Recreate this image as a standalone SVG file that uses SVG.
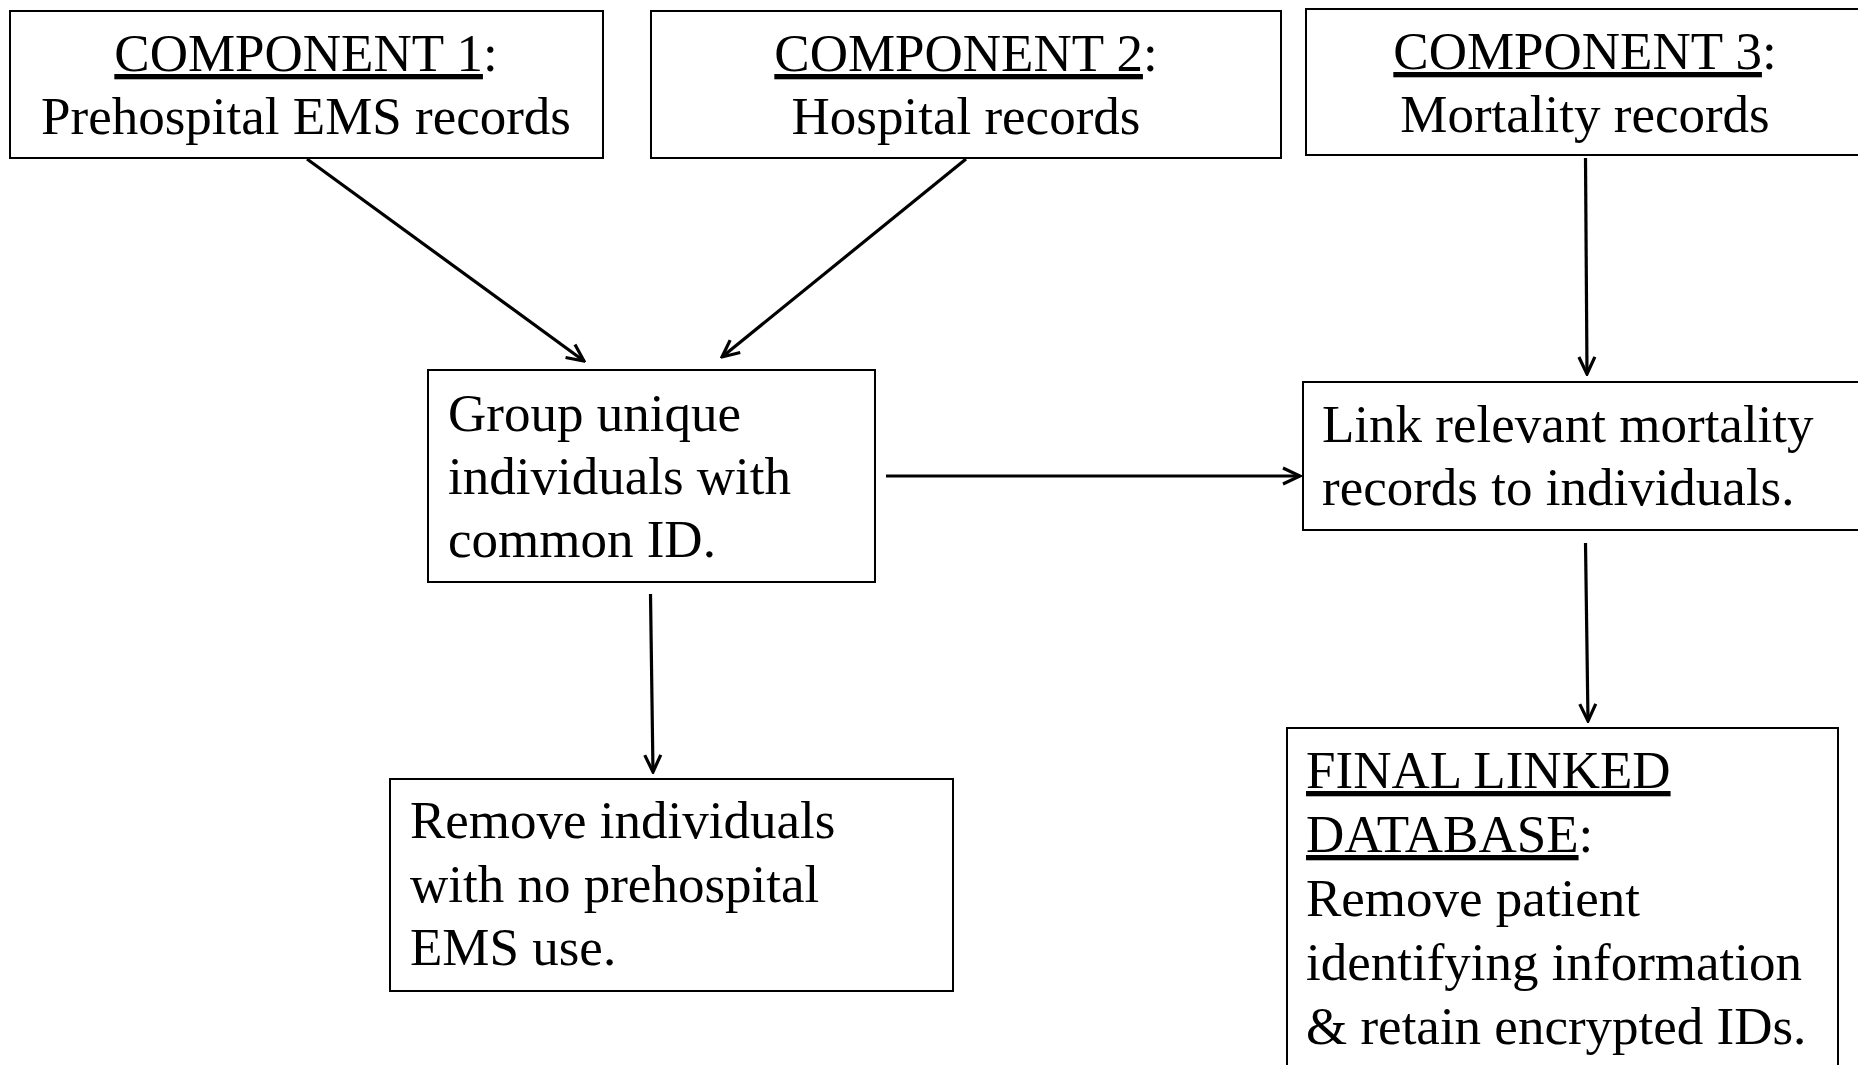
<svg xmlns="http://www.w3.org/2000/svg" width="1858" height="1065" viewBox="0 0 1858 1065">
<style>
.box{fill:#fff;stroke:#000;stroke-width:2}
.t{font-family:"Liberation Serif","Times New Roman",serif;font-size:53px;fill:#000}
.c{text-anchor:middle}
.u{text-decoration:underline}
.con{stroke:#000;stroke-width:3.2;fill:none;marker-end:url(#ah)}
</style>
<defs>
<marker id="ah" viewBox="0 0 22 22" refX="20" refY="11" markerWidth="22" markerHeight="22" markerUnits="userSpaceOnUse" orient="auto">
<path d="M3,3 L20,11 L3,19" fill="none" stroke="#000" stroke-width="3.2"/>
</marker>
</defs>
<rect width="1858" height="1065" fill="#fff"/>
<g id="connectors">
<line class="con" x1="307" y1="159" x2="584" y2="361"/>
<line class="con" x1="966" y1="159" x2="722" y2="357"/>
<line class="con" x1="1585.5" y1="158" x2="1587" y2="374"/>
<line class="con" x1="886" y1="476" x2="1300" y2="476"/>
<line class="con" x1="650.5" y1="594" x2="653" y2="772"/>
<line class="con" x1="1585.5" y1="543" x2="1588" y2="721"/>
</g>
<g id="comp1">
<rect class="box" x="10" y="11" width="593" height="147"/>
<text class="t c" x="306" y="71"><tspan class="u">COMPONENT 1</tspan>:</text>
<text class="t c" x="306" y="134">Prehospital EMS records</text>
</g>
<g id="comp2">
<rect class="box" x="651" y="11" width="630" height="147"/>
<text class="t c" x="966" y="71"><tspan class="u">COMPONENT 2</tspan>:</text>
<text class="t c" x="966" y="134">Hospital records</text>
</g>
<g id="comp3">
<rect class="box" x="1306" y="9" width="560" height="146"/>
<text class="t c" x="1585" y="69"><tspan class="u">COMPONENT 3</tspan>:</text>
<text class="t c" x="1585" y="132">Mortality records</text>
</g>
<g id="group">
<rect class="box" x="428" y="370" width="447" height="212"/>
<text class="t" x="448" y="431">Group unique</text>
<text class="t" x="448" y="494">individuals with</text>
<text class="t" x="448" y="557">common ID.</text>
</g>
<g id="link">
<rect class="box" x="1303" y="382" width="565" height="148"/>
<text class="t" x="1322" y="442">Link relevant mortality</text>
<text class="t" x="1322" y="505">records to individuals.</text>
</g>
<g id="remove">
<rect class="box" x="390" y="779" width="563" height="212"/>
<text class="t" x="410" y="838">Remove individuals</text>
<text class="t" x="410" y="902">with no prehospital</text>
<text class="t" x="410" y="965">EMS use.</text>
</g>
<g id="final">
<rect class="box" x="1287" y="728" width="551" height="345"/>
<text class="t" x="1306" y="788"><tspan class="u">FINAL LINKED</tspan></text>
<text class="t" x="1306" y="852"><tspan class="u">DATABASE</tspan>:</text>
<text class="t" x="1306" y="916">Remove patient</text>
<text class="t" x="1306" y="980">identifying information</text>
<text class="t" x="1306" y="1044">&amp; retain encrypted IDs.</text>
</g>
</svg>
